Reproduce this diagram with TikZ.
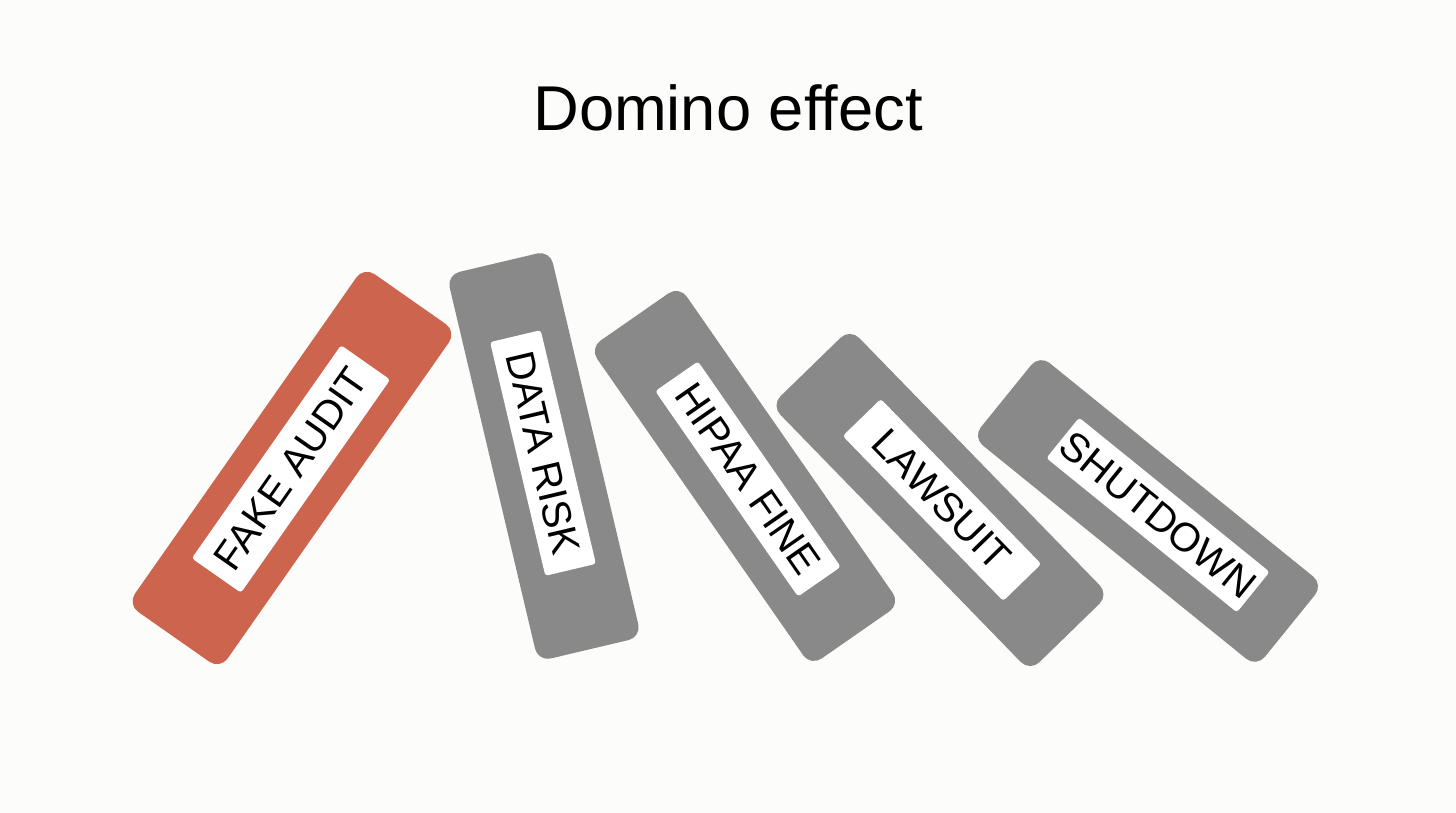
\documentclass[tikz,border=0pt]{standalone}
\usepackage{fontspec}
\setmainfont{Liberation Sans}
\definecolor{bg}{HTML}{FCFCFB}
\definecolor{dred}{HTML}{CC644E}
\definecolor{dgray}{HTML}{898989}
\begin{document}
\begin{tikzpicture}[x=0.01cm,y=0.01cm,
  domino/.style={fill=#1,draw=none,rounded corners=0.13cm,inner sep=0pt},
  lab/.style={fill=white,draw=none,rounded corners=0.03cm,inner sep=0pt,font=\fontsize{11.5}{12}\selectfont,text=black}]
\fill[bg] (0,0) rectangle (1456,813);
\useasboundingbox (0,0) rectangle (1456,813);
\node[font=\fontsize{18}{21}\selectfont] (title) at (728,705) {Domino effect};
% domino 2
\node[domino=dgray,rotate=-76.7,minimum width=3.97cm,minimum height=1.06cm] (d2) at (544,357) {};
\node[lab,rotate=-76.7,minimum width=2.4cm,minimum height=0.52cm] (l2) at (543,360) {DATA RISK};
% domino 1
\node[domino=dred,rotate=55,minimum width=4.12cm,minimum height=1.13cm] (d1) at (292,345) {};
\node[lab,rotate=55,minimum width=2.6cm,minimum height=0.6cm] (l1) at (291,344) {FAKE AUDIT};
% domino 3
\node[domino=dgray,rotate=-55.2,minimum width=3.87cm,minimum height=1.09cm] (d3) at (745,337) {};
\node[lab,rotate=-55.2,minimum width=2.5cm,minimum height=0.52cm] (l3) at (748,334) {HIPAA FINE};
% domino 4
\node[domino=dgray,rotate=-45.8,minimum width=3.71cm,minimum height=1.10cm] (d4) at (940,313) {};
\node[lab,rotate=-45.8,minimum width=2.3cm,minimum height=0.53cm] (l4) at (942,313) {LAWSUIT};
% domino 5
\node[domino=dgray,rotate=-39,minimum width=3.65cm,minimum height=1.06cm] (d5) at (1148,302) {};
\node[lab,rotate=-39,minimum width=2.45cm,minimum height=0.52cm] (l5) at (1158,298) {SHUTDOWN};
\end{tikzpicture}
\end{document}
